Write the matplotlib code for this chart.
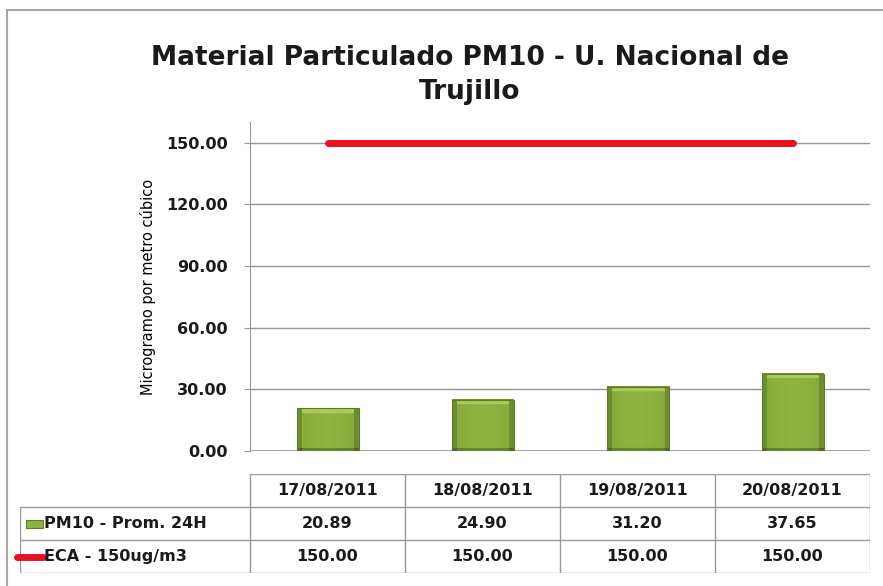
import numpy as np
import matplotlib
matplotlib.use('Agg')
import matplotlib.pyplot as plt
from matplotlib.patches import Rectangle
from matplotlib.lines import Line2D

plt.rcParams['font.family'] = ['DejaVu Sans']

# data
fechas = ['17/08/2011', '18/08/2011', '19/08/2011', '20/08/2011']
pm10 = [20.89, 24.90, 31.20, 37.65]
eca = [150.00, 150.00, 150.00, 150.00]
serie_pm10 = 'PM10 - Prom. 24H'
serie_eca = 'ECA - 150ug/m3'
titulo = 'Material Particulado PM10 - U. Nacional de\nTrujillo'
etiqueta_y = 'Microgramo por metro cúbico'
y_ticks = [0, 30, 60, 90, 120, 150]

W, H = 883, 586
fig = plt.figure(figsize=(W / 100, H / 100), dpi=100)

# outer chart border
fig.patches.append(Rectangle((7 / W, -0.05), 1.2, 1.05 - 10 / H, transform=fig.transFigure,
                             fill=False, edgecolor='#a6a6a6', linewidth=1.5))

ax = fig.add_axes([250 / W, 1 - 451 / H, 620 / W, 329 / H])
x = np.arange(len(fechas))
ax.set_ylim(0, 160)

for t in y_ticks[1:]:
    ax.axhline(t, color='#969696', linewidth=1.0, zorder=0)
ax.axhline(0, color='#969696', linewidth=1.2, zorder=0)


def bevel_img(nx=62, ny=120, band=5):
    # rgb image: flat face, lighter top edge, darker sides/bottom
    face = np.array([0.56, 0.71, 0.25])
    img = np.tile(face, (ny, nx, 1))
    jj = np.arange(nx)
    # slight horizontal shading
    shade = 1 - 0.06 * np.abs(jj - nx / 2) / (nx / 2)
    img *= shade[None, :, None]
    img[:, :band] *= 0.82
    img[:, -band:] *= 0.82
    img[-3:, :] *= 0.75
    img[:band, band:-band] = np.array([0.66, 0.80, 0.36])
    img[0, :] = np.array([0.45, 0.58, 0.18])
    return np.clip(img, 0, 1)


bars = ax.bar(x, pm10, width=0.40, color='#8fb43e', edgecolor='none', zorder=2)
for b in bars:
    bx, by, bw, bh = b.get_x(), b.get_y(), b.get_width(), b.get_height()
    ny = max(int(bh * 2.05), 10)
    ax.imshow(bevel_img(ny=ny), extent=(bx, bx + bw, by, by + bh), aspect='auto',
              interpolation='bilinear', zorder=2.5)
    ax.add_patch(Rectangle((bx, by), bw, bh, fill=False, edgecolor='#5f7c24', linewidth=0.8, zorder=2.7))

ax.plot(x, eca, color='#e8121c', linewidth=5, solid_capstyle='round', zorder=3)

ax.set_xlim(-0.5, len(fechas) - 0.5)
ax.set_yticks(y_ticks)
ax.set_yticklabels([f'{v:.2f}' for v in y_ticks], fontsize=11.5, fontweight='bold', color='#1a1a1a')
ax.set_xticks([])
for s in ['top', 'right', 'bottom']:
    ax.spines[s].set_visible(False)
ax.spines['left'].set_color('#969696')
ax.tick_params(axis='y', length=4, color='#969696', pad=12)
ax.set_ylabel(etiqueta_y, fontsize=10.5, labelpad=7)

fig.text(470 / W, 1 - 75 / H, titulo, ha='center', va='center', fontsize=19,
         fontweight='bold', linespacing=1.4, color='#1a1a1a')

# data table under the chart
tab = fig.add_axes([20 / W, 1 - 573 / H, 850 / W, 99 / H])
lab_w = 230 / 155
tab.set_xlim(-0.5 - lab_w, len(fechas) - 0.5)
tab.set_ylim(0, 3)
tab.axis('off')
gc = '#9a9a9a'
tab.plot([-0.5, len(fechas) - 0.5], [3, 3], color=gc, lw=1)
for yy in [2, 1, 0]:
    tab.plot([-0.5 - lab_w, len(fechas) - 0.5], [yy, yy], color=gc, lw=1)
tab.plot([-0.5 - lab_w, -0.5 - lab_w], [0, 2], color=gc, lw=1)
for i in range(len(fechas) + 1):
    tab.plot([i - 0.5, i - 0.5], [0, 3], color=gc, lw=1)

for i, f in enumerate(fechas):
    tab.text(i, 2.5, f, ha='center', va='center', fontsize=11.5, fontweight='bold', color='#1a1a1a')
    tab.text(i, 1.5, f'{pm10[i]:.2f}', ha='center', va='center', fontsize=11.5, fontweight='bold', color='#1a1a1a')
    tab.text(i, 0.5, f'{eca[i]:.2f}', ha='center', va='center', fontsize=11.5, fontweight='bold', color='#1a1a1a')

x0 = -0.5 - lab_w
tab.add_patch(Rectangle((x0 + 6 / 155, 1.36), 17 / 155, 0.26, facecolor='#8fb43e',
                        edgecolor='#5f7c24', lw=0.8))
tab.text(x0 + 24 / 155, 1.5, serie_pm10, ha='left', va='center', fontsize=11.5,
         fontweight='bold', color='#1a1a1a')
tab.add_line(Line2D([x0 - 3 / 155, x0 + 23 / 155], [0.5, 0.5], color='#e8121c', lw=5,
                    solid_capstyle='round', clip_on=False))
tab.text(x0 + 24 / 155, 0.5, serie_eca, ha='left', va='center', fontsize=11.5,
         fontweight='bold', color='#1a1a1a')

fig.savefig('out.png', dpi=100)
